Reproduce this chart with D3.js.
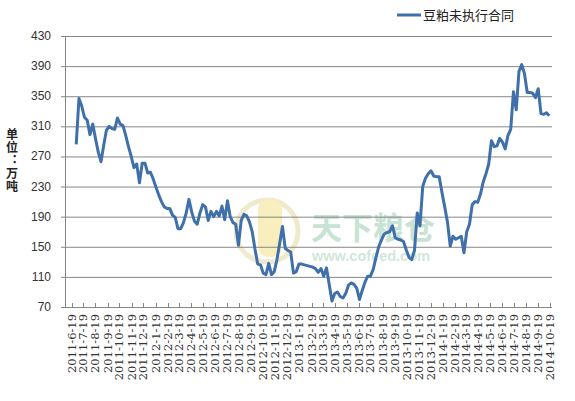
<!DOCTYPE html>
<html>
<head>
<meta charset="utf-8">
<script src="https://cdn.jsdelivr.net/npm/d3@7"></script>
<style>
  body { margin: 0; background: #fff; }
  svg { display: block; }
</style>
</head>
<body>
<svg class="svg" width="575" height="401"></svg>
<script>
// 图例名称
const seriesName = "豆粕未执行合同";

// 周度数据起止 (每周五)
const firstWeek = "2011-07-01";
const lastWeek = "2014-10-17";

// 豆粕未执行合同 (万吨), 每周一个值
const values = [
    286, 347, 337, 322, 318, 299, 313, 294, 276, 263,
    285, 305, 310, 307, 306, 321, 313, 311, 298, 283,
    270, 255, 260, 235, 261, 261, 248, 249, 240, 229,
    219, 210, 203, 201, 201, 192, 189, 174, 174, 182,
    195, 213, 196, 184, 180, 195, 206, 203, 185, 197,
    190, 197, 191, 204, 186, 211, 190, 182, 180, 152,
    185, 193, 191, 183, 170, 147, 127, 126, 115, 113,
    128, 113, 117, 133, 155, 177, 148, 145, 143, 115,
    117, 127, 127, 126, 125, 124, 123, 121, 116, 121,
    111, 122, 100, 78, 88, 90, 84, 82, 88, 99,
    102, 100, 95, 80, 92, 103, 111, 111, 120, 136,
    150, 159, 167, 169, 170, 178, 162, 160, 159, 157,
    146, 136, 133, 145, 195, 178, 230, 241, 247, 251,
    244, 243, 243, 222, 203, 183, 151, 164, 160, 162,
    164, 142, 170, 180, 206, 210, 209, 220, 236, 247,
    260, 291, 283, 284, 294, 289, 280, 298, 306, 356,
    332, 383, 392, 380, 355, 355, 354, 348, 360, 327,
    326, 328, 324
];

// 横轴标签: 每月19日
const monthLabels = [
    "2011-6-19", "2011-7-19", "2011-8-19", "2011-9-19", "2011-10-19", "2011-11-19", "2011-12-19",
    "2012-1-19", "2012-2-19", "2012-3-19", "2012-4-19", "2012-5-19", "2012-6-19", "2012-7-19",
    "2012-8-19", "2012-9-19", "2012-10-19", "2012-11-19", "2012-12-19",
    "2013-1-19", "2013-2-19", "2013-3-19", "2013-4-19", "2013-5-19", "2013-6-19", "2013-7-19",
    "2013-8-19", "2013-9-19", "2013-10-19", "2013-11-19", "2013-12-19",
    "2014-1-19", "2014-2-19", "2014-3-19", "2014-4-19", "2014-5-19", "2014-6-19", "2014-7-19",
    "2014-8-19", "2014-9-19", "2014-10-19"
];

// 纵轴刻度
const yTicks = [70, 110, 150, 190, 230, 270, 310, 350, 390, 430];

// 纵轴单位
const unitLabel = "单位：万吨";

const parse = d3.timeParse("%Y-%m-%d");
const dates = [];
for (let d = parse(firstWeek); d <= parse(lastWeek); d = d3.timeDay.offset(d, 7)) dates.push(d);
const data = dates.map((d, i) => ({date: d, value: values[i]}));

const svg = d3.select(".svg");
const plotLeft = 65, plotRight = 552, plotTop = 36, plotBottom = 307;

const x = d3.scaleTime()
    .domain([parse("2011-06-19"), parse("2014-10-19")])
    .range([71.5, 550]);

const y = d3.scaleLinear()
    .domain([70, 430])
    .range([plotBottom, plotTop]);

const numFont = "'Liberation Sans', Arial, sans-serif";
const cjkFont = "'Noto Sans CJK SC', sans-serif";

// 水印
const wm = svg.append("g").attr("opacity", 0.75);
wm.append("circle")
    .attr("cx", 267).attr("cy", 231).attr("r", 31)
    .attr("fill", "none").attr("stroke", "#ebe3bd").attr("stroke-width", 5);
wm.append("rect")
    .attr("x", 258).attr("y", 199).attr("width", 24).attr("height", 58).attr("rx", 10)
    .attr("fill", "#f7e9a8");
wm.append("text")
    .attr("x", 311).attr("y", 239)
    .attr("font-family", cjkFont).attr("font-size", 31).attr("font-weight", "bold")
    .attr("fill", "#b6d9c5")
    .text("天下粮仓");
wm.append("text")
    .attr("x", 312).attr("y", 261)
    .attr("font-family", numFont).attr("font-size", 14.5).attr("font-weight", "bold")
    .attr("fill", "#c3dfcf")
    .text("www.cofeed.com");

// 网格线
svg.append("g").selectAll("line")
    .data(yTicks)
    .join("line")
    .attr("x1", plotLeft - 4).attr("x2", plotRight)
    .attr("y1", d => y(d) + 0.5).attr("y2", d => y(d) + 0.5)
    .attr("stroke", "#868686").attr("stroke-width", 1);

// 纵轴
svg.append("line")
    .attr("x1", plotLeft + 0.5).attr("x2", plotLeft + 0.5)
    .attr("y1", plotTop).attr("y2", plotBottom + 1)
    .attr("stroke", "#868686");

svg.append("g").selectAll("text")
    .data(yTicks)
    .join("text")
    .attr("x", 51).attr("y", d => y(d) + 4)
    .attr("text-anchor", "end")
    .attr("font-family", numFont).attr("font-size", 12)
    .attr("fill", "#333")
    .text(d => d);

// 横轴刻度
const labelDates = monthLabels.map(s => parse(s));
svg.append("g").selectAll("line")
    .data(labelDates)
    .join("line")
    .attr("x1", d => Math.round(x(d)) + 0.5).attr("x2", d => Math.round(x(d)) + 0.5)
    .attr("y1", plotBottom - 4).attr("y2", plotBottom)
    .attr("stroke", "#868686");

svg.append("g").selectAll("text")
    .data(monthLabels)
    .join("text")
    .attr("transform", (d, i) => `translate(${x(labelDates[i]) + 4},${plotBottom + 7}) rotate(-90)`)
    .attr("text-anchor", "end")
    .attr("font-family", "'DejaVu Serif', serif").attr("font-size", 11.5)
    .attr("fill", "#333")
    .text(d => d);

// 单位 (竖排)
svg.append("text")
    .attr("x", 12).attr("y", 128)
    .attr("writing-mode", "tb")
    .style("writing-mode", "vertical-rl")
    .style("text-orientation", "upright")
    .style("font-feature-settings", "'vert' 0")
    .attr("letter-spacing", 1)
    .attr("font-family", cjkFont).attr("font-size", 12).attr("font-weight", "bold")
    .attr("fill", "#222")
    .text(unitLabel);

// 折线
const line = d3.line()
    .x(d => x(d.date))
    .y(d => y(d.value));

svg.append("path")
    .datum(data)
    .attr("d", line)
    .attr("fill", "none")
    .attr("stroke", "#4070ab")
    .attr("stroke-width", 3)
    .attr("stroke-linejoin", "round");

// 图例
const legend = svg.append("g").attr("transform", "translate(397,15)");
legend.append("line")
    .attr("x1", 0).attr("x2", 24).attr("y1", 0).attr("y2", 0)
    .attr("stroke", "#4070ab").attr("stroke-width", 3);
legend.append("text")
    .attr("x", 26).attr("y", 5)
    .attr("font-family", cjkFont).attr("font-size", 13)
    .attr("fill", "#222")
    .text(seriesName);
</script>
</body>
</html>
